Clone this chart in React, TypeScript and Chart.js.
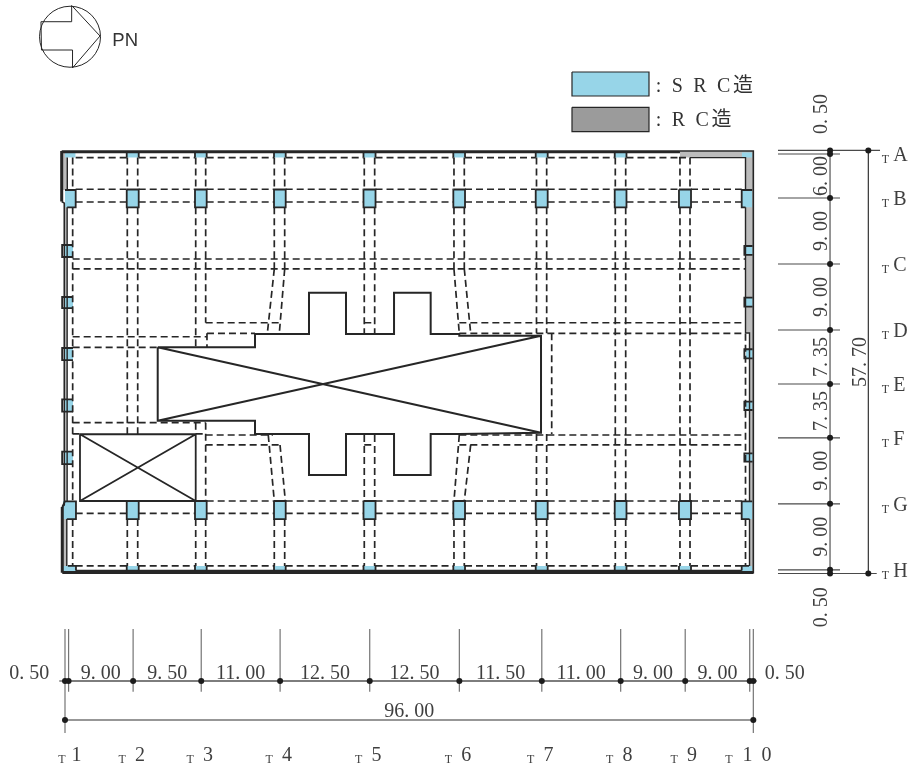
import React, { useEffect, useRef } from "react";
import { Chart, registerables } from "chart.js";

Chart.register(...registerables);

// ---- Plan dimensions (metres) ----
const xSpans = [0.5, 9, 9.5, 11, 12.5, 12.5, 11.5, 11, 9, 9, 0.5];
const ySpans = [0.5, 6, 9, 9, 7.35, 7.35, 9, 9, 0.5];
const xSpanLabels = ["0. 50", "9. 00", "9. 50", "11. 00", "12. 50", "12. 50", "11. 50", "11. 00", "9. 00", "9. 00", "0. 50"];
const ySpanLabels = ["0. 50", "6. 00", "9. 00", "9. 00", "7. 35", "7. 35", "9. 00", "9. 00", "0. 50"];
const totalXLabel = "96. 00";
const totalYLabel = "57. 70";
const xGridNames = ["1", "2", "3", "4", "5", "6", "7", "8", "9", "1 0"];
const yGridNames = ["A", "B", "C", "D", "E", "F", "G", "H"];
const legendSrc = ": S R C造";
const legendRc = ": R C造";
const northLabel = "PN";

// ---- Plan geometry (metres) ----
type Seg = number[][];
const colX = [[8.61, 10.28], [18.13, 19.76], [29.15, 30.78], [41.63, 43.31], [54.16, 55.79], [65.65, 67.32], [76.67, 78.31], [85.63, 87.31]];
const mainRows = [[5.33, 7.76], [47.81, 50.27]];
const edgeRows = [[0.3, 0.98], [56.67, 57.35]];
const leftSmallY = [[12.9, 14.54], [19.99, 21.5], [26.95, 28.59], [33.94, 35.63], [41.09, 42.77]];
const rightSmallY = [[13.04, 14.26], [20.09, 21.31], [27.12, 28.35], [34.27, 35.4], [41.31, 42.45]];
const cornerRects = [[0, 1.49, 0.3, 0.98], [-0.38, 1.53, 56.67, 57.35], [94.38, 95.85, 0.3, 0.98], [94.38, 95.85, 56.67, 57.35], [0, 1.49, 5.33, 7.76], [-0.3, 1.53, 47.81, 50.27], [94.38, 95.85, 5.33, 7.76], [94.38, 95.85, 47.81, 50.27]];
const greyRects = [[-0.38, 0.3, 0.3, 5.4], [0, 0.3, 7.5, 48], [-0.38, 0.25, 50, 56.8], [85.77, 96, 0.1, 0.98], [94.91, 96, 0.1, 24.9], [95.47, 96, 24.9, 57.4], [1.5, 94.4, 57.3, 57.7]];

const verticalBeams: Seg = [
  [1.07, 0.98, 1.07, 5.3], [1.07, 7.76, 1.07, 47.81], [1.07, 50.27, 1.07, 56.67],
  [8.69, 0.98, 8.69, 5.33], [8.69, 7.76, 8.69, 38.67], [8.69, 50.27, 8.69, 56.67],
  [10.14, 0.98, 10.14, 5.33], [10.14, 7.76, 10.14, 38.67], [10.14, 50.27, 10.14, 56.67],
  [18.23, 0.98, 18.23, 5.33], [18.23, 7.76, 18.23, 26.85], [18.23, 37.13, 18.23, 38.67], [18.23, 50.27, 18.23, 56.67],
  [19.62, 0.98, 19.62, 5.33], [19.62, 7.76, 19.62, 23.5], [19.8, 24.94, 19.8, 26.85], [19.62, 37.13, 19.62, 47.81], [19.62, 50.27, 19.62, 56.67],
  [29.19, 0.98, 29.19, 5.33], [29.19, 7.76, 29.19, 16.17], [29.19, 16.17, 28.22, 24.94], [28.35, 38.81, 29.19, 47.81], [29.19, 50.27, 29.19, 56.67],
  [30.64, 0.98, 30.64, 5.33], [30.64, 7.76, 30.64, 16.17], [30.64, 16.17, 29.89, 24.94], [29.99, 40.17, 30.73, 47.81], [30.64, 50.27, 30.64, 56.67],
  [41.74, 0.98, 41.74, 5.33], [41.74, 7.76, 41.74, 24.94], [41.74, 38.81, 41.74, 47.81], [41.74, 50.27, 41.74, 56.67],
  [43.19, 0.98, 43.19, 5.33], [43.19, 7.76, 43.19, 24.94], [43.19, 38.81, 43.19, 47.81], [43.19, 50.27, 43.19, 56.67],
  [54.25, 0.98, 54.25, 5.33], [54.25, 7.76, 54.25, 16.17], [54.25, 16.17, 54.99, 24.94], [54.99, 38.81, 54.25, 47.81], [54.25, 50.27, 54.25, 56.67],
  [55.69, 0.98, 55.69, 5.33], [55.69, 7.76, 55.69, 16.17], [55.69, 16.17, 56.58, 24.94], [56.58, 40.17, 55.69, 47.81], [55.69, 50.27, 55.69, 56.67],
  [65.76, 0.98, 65.76, 5.33], [65.76, 7.76, 65.76, 24.94], [65.76, 38.67, 65.76, 47.81], [65.76, 50.27, 65.76, 56.67],
  [67.18, 0.98, 67.18, 5.33], [67.18, 7.76, 67.18, 24.94], [67.88, 24.94, 67.88, 38.67], [67.18, 38.67, 67.18, 47.81], [67.18, 50.27, 67.18, 56.67],
  [76.75, 0.98, 76.75, 5.33], [76.75, 7.76, 76.75, 47.81], [76.75, 50.27, 76.75, 56.67],
  [78.2, 0.98, 78.2, 5.33], [78.2, 7.76, 78.2, 47.81], [78.2, 50.27, 78.2, 56.67],
  [85.77, 0.98, 85.77, 5.33], [85.77, 7.76, 85.77, 47.81], [85.77, 50.27, 85.77, 56.67],
  [87.17, 0.98, 87.17, 5.33], [87.17, 7.76, 87.17, 47.81], [87.17, 50.27, 87.17, 56.67],
  [94.91, 25, 94.91, 47.81], [94.91, 50.27, 94.91, 56.67],
];
const bayGaps = [[1.49, 8.61], [10.28, 18.13], [19.76, 29.15], [30.78, 41.63], [43.31, 54.16], [55.79, 65.65], [67.32, 76.67], [78.31, 85.63], [87.31, 94.38]];
const bayRows = [0.98, 5.3, 7.04, 47.81, 49.49, 56.67];
const horizontalBeams: Seg = [
  [85.63, 0.98, 87.17, 0.98],
  [1.07, 14.81, 94.91, 14.81], [1.07, 16.17, 94.91, 16.17],
  [1.07, 25.41, 19.8, 25.41], [1.07, 26.85, 12.93, 26.85],
  [19.62, 23.5, 29.89, 23.5], [19.8, 24.94, 26.5, 24.94],
  [41.74, 23.5, 43.19, 23.5], [55, 23.5, 94.91, 23.5], [55, 24.94, 94.91, 24.94],
  [1.07, 37.13, 19.62, 37.13], [1.07, 38.67, 2.09, 38.67], [18.23, 38.67, 19.62, 38.67],
  [19.62, 38.81, 29, 38.81], [19.62, 40.17, 30, 40.17],
  [41.74, 40.17, 43.19, 40.17], [55, 38.81, 94.91, 38.81], [55, 40.17, 94.91, 40.17],
];
const coreOutline = [[12.93, 26.85], [26.5, 26.85], [26.5, 25.04], [34.03, 25.04], [34.03, 19.41], [39.19, 19.41], [39.19, 25.04], [45.89, 25.04], [45.89, 19.41], [51, 19.41], [51, 25.04], [54.99, 25.04], [54.99, 25.27], [66.39, 25.27], [66.39, 38.5], [54.99, 38.67], [51, 38.67], [51, 44.26], [45.89, 44.26], [45.89, 38.67], [39.19, 38.67], [39.19, 44.26], [34.03, 44.26], [34.03, 38.67], [26.5, 38.67], [26.5, 36.86], [12.93, 36.86], [12.93, 26.85]];
const coreDiagonals: Seg = [[12.93, 26.85, 66.39, 38.5], [12.93, 36.86, 66.39, 25.27]];
const voidBox = [2.09, 18.23, 38.71, 47.81];
const outerHeavy = [[[-0.46, 0.2], [85.77, 0.2]], [[-0.46, 0.08], [-0.46, 6.97]], [[-0.38, 48.63], [-0.38, 57.6]], [[-0.38, 57.55], [96, 57.55]]];
const outerThin = [[[85.77, 0.08], [96, 0.08], [96, 57.7]], [[1.5, 57.3], [94.4, 57.3]], [[-0.46, 6.97], [-0.1, 7.2], [-0.1, 48.35], [-0.38, 48.63]]];
const innerWalls = [[[0.32, 0.98], [0.32, 5.4]], [[0.3, 7.76], [0.3, 47.8]], [[0.25, 50.27], [0.25, 56.67]], [[87.17, 0.98], [94.91, 0.98], [94.91, 5.33]], [[94.91, 7.76], [94.91, 24.9], [95.47, 24.9], [95.47, 47.81]], [[95.47, 50.27], [95.47, 56.67]]];
const cornerOutlines = [[[0, 5.4], [1.49, 5.4], [1.49, 7.76], [0.3, 7.76]], [[-0.38, 48.6], [0, 47.85], [1.53, 47.85], [1.53, 50.27], [0.25, 50.27]], [[95.85, 5.4], [94.38, 5.4], [94.38, 7.76], [94.91, 7.76]], [[95.85, 47.85], [94.38, 47.85], [94.38, 50.27], [95.47, 50.27]], [[0.4, 56.67], [1.53, 56.67], [1.53, 57.3]], [[94.38, 57.3], [94.38, 56.67], [95.4, 56.67]]];
const legendBoxes = [[70.71, 81.45, -10.69, -7.42], [70.71, 81.45, -5.88, -2.55]];
const northArrow = [[-3.35, -17.55], [0.93, -17.55], [0.93, -19.76], [4.88, -15.6], [1.05, -11.24], [1.05, -13.69], [-3.28, -13.69], [-3.35, -17.55]];
const northCentre = [0.7, -15.5];

// ---- Dimension-line placement (metres) ----
const cum = (a: number[]) => a.reduce((o: number[], v) => [...o, o[o.length - 1] + v], [0]);
const xLines = cum(xSpans);
const yLines = cum(ySpans);

const BLUE = "#97d5e8";
const GREY = "#bcbcbc";
const INK = "#262626";
const DIM = "#757575";
const TEXT = "#3f3f3f";
const SERIF = "'Liberation Serif','Noto Sans CJK JP',serif";

const XMIN = -65 / 7.17;
const XMAX = (916 - 65) / 7.17;
const YMIN = -150.4 / 7.333;
const YMAX = (771 - 150.4) / 7.333;

const pts = (paths: number[][][]) => {
  const out: { x: number; y: number }[] = [];
  paths.forEach((p, i) => {
    if (i) out.push({ x: NaN, y: NaN });
    p.forEach(([x, y]) => out.push({ x, y }));
  });
  return out;
};
const segPaths = (s: Seg) => s.map(([a, b, c, d]) => [[a, b], [c, d]]);

function lineDs(paths: number[][][], color: string, width: number, dash: number[] = []) {
  return { data: pts(paths), showLine: true, borderColor: color, borderWidth: width, borderDash: dash, pointRadius: 0, fill: false, spanGaps: false, tension: 0 };
}
function rectDs([x0, x1, y0, y1]: number[], color: string) {
  return { data: [{ x: x0, y: y0 }, { x: x1, y: y0 }], showLine: true, borderWidth: 0, borderColor: "rgba(0,0,0,0)", backgroundColor: color, pointRadius: 0, fill: { value: y1 }, tension: 0 };
}
function dotLineDs(paths: number[][][], color: string, width: number) {
  return { ...lineDs(paths, color, width), pointRadius: 3, pointBackgroundColor: "#1c1c1c", pointBorderWidth: 0 };
}
const box = ([x0, x1, y0, y1]: number[]) => [[x0, y0], [x1, y0], [x1, y1], [x0, y1], [x0, y0]];

function buildDatasets() {
  const ds: any[] = [];
  greyRects.forEach((r) => ds.push(rectDs(r, GREY)));
  // SRC columns
  colX.forEach(([a, b]) => mainRows.forEach(([c, d]) => ds.push(rectDs([a, b, c, d], BLUE))));
  colX.forEach(([a, b], i) => edgeRows.forEach(([c, d], k) => { if (!(i === 7 && k === 0)) ds.push(rectDs([a, b, c, d], BLUE)); }));
  cornerRects.forEach((r) => ds.push(rectDs(r, BLUE)));
  leftSmallY.forEach(([c, d]) => ds.push(rectDs([-0.1, 1.12, c, d], BLUE)));
  rightSmallY.forEach(([c, d]) => ds.push(rectDs([94.95, 95.9, c, d], BLUE)));
  // beams
  const bay: Seg = [];
  bayRows.forEach((y) => bayGaps.forEach(([a, b]) => {
    if (y === 47.81 && a < 18) return;
    if (y === 0.98 && a > 87) return;
    bay.push([a, y, b, y]);
  }));
  ds.push(lineDs(segPaths([...horizontalBeams, ...bay, ...verticalBeams]), INK, 1.7, [7, 4]));
  // walls
  ds.push(lineDs(outerHeavy, INK, 3));
  ds.push(lineDs(outerThin, INK, 1.6));
  ds.push(lineDs(innerWalls, INK, 1.4));
  ds.push(lineDs(cornerOutlines, INK, 1.8));
  const cols: number[][][] = [];
  colX.forEach(([a, b]) => mainRows.forEach(([c, d]) => cols.push(box([a, b, c, d]))));
  colX.forEach(([a, b], i) => edgeRows.forEach(([c, d], k) => {
    if (!(i === 7 && k === 0)) { cols.push([[a, c], [a, d]]); cols.push([[b, c], [b, d]]); }
  }));
  leftSmallY.forEach(([c, d]) => cols.push([[1.12, c], [-0.4, c], [-0.4, d], [1.12, d]]));
  rightSmallY.forEach(([c, d]) => cols.push([[95.9, c], [94.75, c], [94.75, d], [95.9, d]]));
  ds.push(lineDs(cols, INK, 1.8));
  // core and void
  ds.push(lineDs([coreOutline, ...segPaths(coreDiagonals)], INK, 2));
  const [vx0, vx1, vy0, vy1] = voidBox;
  ds.push(lineDs([box(voidBox), [[vx0, vy0], [vx1, vy1]], [[vx0, vy1], [vx1, vy0]]], INK, 1.8));
  // legend
  ds.push(rectDs(legendBoxes[0], BLUE));
  ds.push(rectDs(legendBoxes[1], "#9b9b9b"));
  ds.push(lineDs(legendBoxes.map(box), INK, 1.2));
  // north symbol
  ds.push(lineDs([northArrow], INK, 1));
  ds.push({ data: [{ x: northCentre[0], y: northCentre[1] }], showLine: false, pointStyle: "circle", pointRadius: 30.5, pointBackgroundColor: "rgba(0,0,0,0)", pointBorderColor: INK, pointBorderWidth: 1 });
  // dimension lines: bottom
  const DX = 72.36, DX2 = 77.67;
  const xTicks = xLines.map((x, i) => (i === 0 || i === xLines.length - 1 ? [[x, 65.26], [x, 79.45]] : [[x, 65.26], [x, 73.84]]));
  ds.push(lineDs(xTicks, DIM, 1.2));
  ds.push(lineDs([[[-0.8, DX], [96.5, DX]]], DIM, 1.5));
  ds.push(dotLineDs([xLines.map((x) => [x, DX])], DIM, 1.5));
  ds.push(dotLineDs([[[0, DX2], [96, DX2]]], DIM, 1.5));
  // dimension lines: right
  const DY = 106.7, DY2 = 112.04;
  const yTicks = yLines.map((y, i) => [[99.44, y], [i === 0 ? 113.67 : i === yLines.length - 1 ? 113.21 : 108.09, y]]);
  ds.push(lineDs(yTicks, "#4a4a4a", 1.1));
  ds.push(dotLineDs([yLines.map((y) => [DY, y])], DIM, 1.5));
  ds.push(dotLineDs([[[DY2, 0], [DY2, 57.7]]], "#333333", 1.2));
  return ds.reverse();
}

const textPlugin = {
  id: "planText",
  afterDraw(chart: any) {
    const { ctx, scales } = chart;
    const X = (v: number) => scales.x.getPixelForValue(v);
    const Y = (v: number) => scales.y.getPixelForValue(v);
    const put = (s: string, x: number, y: number, font: string, align: CanvasTextAlign = "left", spacing = "0px", color = TEXT) => {
      ctx.font = font;
      ctx.fillStyle = color;
      ctx.textAlign = align;
      ctx.textBaseline = "alphabetic";
      (ctx as any).letterSpacing = spacing;
      ctx.fillText(s, X(x), Y(y));
    };
    const dimFont = `20px ${SERIF}`;
    const rot = (s: string, x: number, y: number) => {
      ctx.save();
      ctx.translate(X(x), Y(y));
      ctx.rotate(-Math.PI / 2);
      ctx.font = dimFont;
      ctx.fillStyle = TEXT;
      ctx.textAlign = "center";
      ctx.textBaseline = "alphabetic";
      (ctx as any).letterSpacing = "0px";
      ctx.fillText(s, 0, 0);
      ctx.restore();
    };
    ctx.save();
    // bottom span labels
    xSpanLabels.forEach((s, i) => {
      const mid = (xLines[i] + xLines[i + 1]) / 2;
      if (i === 0) put(s, -2.2, 72.1, dimFont, "right");
      else if (i === xSpanLabels.length - 1) put(s, 97.6, 72.1, dimFont, "left");
      else put(s, mid, 72.1, dimFont, "center");
    });
    put(totalXLabel, 48, 77.2, dimFont, "center");
    // grid names, bottom
    xGridNames.forEach((s, i) => {
      const g = xLines[i + 1];
      const tx = i === 0 ? g - 1.45 : i === 9 ? g - 3.4 : g - 2.05;
      const dx = i === 0 ? g + 0.4 : i === 9 ? g - 1 : g + 0.25;
      put("T", tx, 83.5, `12px ${SERIF}`);
      put(s, dx, 83.2, `20px ${SERIF}`, "left", i === 9 ? "2px" : "0px");
    });
    // right span labels
    ySpanLabels.forEach((s, i) => {
      const mid = (yLines[i] + yLines[i + 1]) / 2;
      if (i === 0) rot(s, 106.3, -4.96);
      else if (i === ySpanLabels.length - 1) rot(s, 106.3, 62.3);
      else rot(s, 106.3, mid);
    });
    rot(totalYLabel, 111.7, 28.85);
    // grid names, right
    yGridNames.forEach((s, i) => {
      const g = yLines[i + 1];
      put("T", 113.9, g + 1.2, `12px ${SERIF}`);
      put(s, 115.5, g + 0.95, `20px ${SERIF}`);
    });
    // legend
    put(legendSrc, 82.4, -8.0, `20px ${SERIF}`, "left", "2.7px", "#333333");
    put(legendRc, 82.4, -3.37, `20px ${SERIF}`, "left", "2.7px", "#333333");
    // north label
    put(northLabel, 6.6, -14.24, `18.5px 'Liberation Sans',sans-serif`, "left", "0px", "#333333");
    ctx.restore();
  },
};

export default function App() {
  const ref = useRef<HTMLCanvasElement | null>(null);
  useEffect(() => {
    if (!ref.current) return;
    const chart = new Chart(ref.current, {
      type: "scatter",
      data: { datasets: buildDatasets() },
      options: {
        animation: false,
        responsive: false,
        devicePixelRatio: 1,
        layout: { padding: 0, autoPadding: false },
        events: [],
        plugins: { legend: { display: false }, tooltip: { enabled: false }, title: { display: false } },
        scales: {
          x: { type: "linear", display: false, min: XMIN, max: XMAX },
          y: { type: "linear", display: false, reverse: true, min: YMIN, max: YMAX },
        },
      },
      plugins: [textPlugin],
    } as any);
    return () => chart.destroy();
  }, []);
  return (
    <div style={{ position: "absolute", left: 0, top: 0, width: 916, height: 771, background: "#fff" }}>
      <canvas ref={ref} width={916} height={771} style={{ display: "block" }} />
    </div>
  );
}
